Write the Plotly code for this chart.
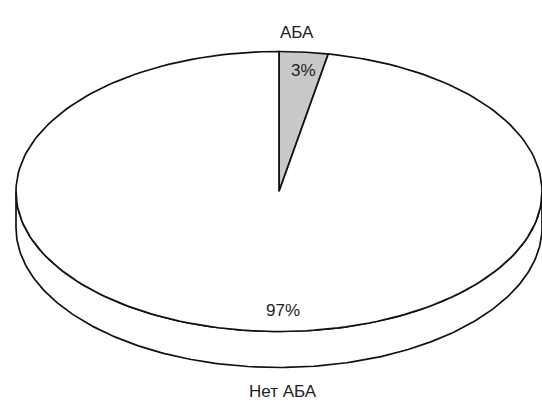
import numpy as np
import plotly.graph_objects as go

# Slice data
labels = ["АБА", "Нет АБА"]
values = [3, 97]
colors = ["#c8c8c8", "#ffffff"]

# Canvas / ellipse geometry (pixel-like coordinates, y pointing down)
W, H = 542, 403
cx, cy = 279, 191.5
rx, ry = 263, 140
depth = 36
line = dict(color="#111111", width=1.7)
font = dict(family="Liberation Sans, Arial, sans-serif", size=17, color="#222222")


def arc(t0, t1, dy=0.0, n=200):
    t = np.linspace(t0, t1, n)
    return cx + rx * np.sin(t), cy + dy - ry * np.cos(t)


fig = go.Figure()

# Side wall of the disc (front half only)
xs_top, ys_top = arc(np.pi / 2, 3 * np.pi / 2)
xs_bot, ys_bot = arc(3 * np.pi / 2, np.pi / 2, dy=depth)
fig.add_trace(go.Scatter(
    x=np.concatenate([xs_top, xs_bot, xs_top[:1]]),
    y=np.concatenate([ys_top, ys_bot, ys_top[:1]]),
    mode="lines", fill="toself", fillcolor="#ffffff", line=line,
    hoverinfo="skip", showlegend=False))

# Top face slices, starting at 12 o'clock and going clockwise
total = sum(values)
start = 0.0
mids = []
for lab, v, c in zip(labels, values, colors):
    span = 2 * np.pi * v / total
    ax, ay = arc(start, start + span)
    fig.add_trace(go.Scatter(
        x=np.concatenate([[cx], ax, [cx]]),
        y=np.concatenate([[cy], ay, [cy]]),
        mode="lines", fill="toself", fillcolor=c, line=line,
        name=lab, hoverinfo="skip", showlegend=False))
    mids.append(start + span / 2)
    start += span

# Percentage labels
pct = [f"{round(100 * v / total)}%" for v in values]
fig.add_annotation(x=cx + 0.87 * rx * np.sin(mids[0]) + 3, y=cy - 0.87 * ry * np.cos(mids[0]),
                   text=pct[0], showarrow=False, font=font)
fig.add_annotation(x=283, y=310, text=pct[1], showarrow=False, font=font)

# Category labels outside the disc
fig.add_annotation(x=297, y=32, text=labels[0], showarrow=False, font=font)
fig.add_annotation(x=283, y=391, text=labels[1], showarrow=False, font=font)

fig.update_layout(
    width=W, height=H,
    margin=dict(l=0, r=0, t=0, b=0),
    paper_bgcolor="white", plot_bgcolor="white",
    xaxis=dict(range=[0, W], visible=False, fixedrange=True),
    yaxis=dict(range=[H, 0], visible=False, fixedrange=True),
)

fig.write_html("out.html")
